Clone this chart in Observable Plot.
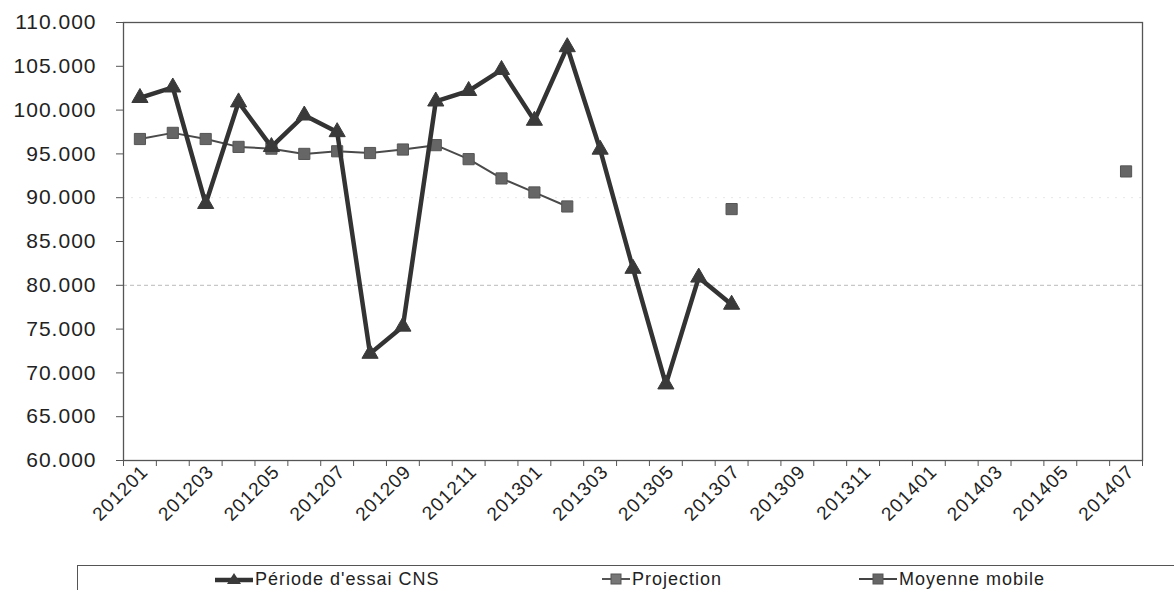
<!DOCTYPE html>
<html><head><meta charset="utf-8">
<script src="https://cdn.jsdelivr.net/npm/d3@7"></script>
<script src="https://cdn.jsdelivr.net/npm/@observablehq/plot@0.6"></script>
<style>
body{margin:0;background:#fff;font-family:"Liberation Sans",Arial,sans-serif;}
#wrap{position:relative;width:1174px;height:590px;overflow:hidden;background:#fff;}
#chart svg text{letter-spacing:1px;}
#legend{position:absolute;left:77px;top:565px;width:1100px;height:40px;border-top:1.5px solid #555;border-left:1.5px solid #555;}
.item{position:absolute;top:1px;height:24px;display:flex;align-items:center;font-size:18px;letter-spacing:1px;color:#222;white-space:nowrap;}
.item svg{margin-right:2px;}
</style></head><body>
<div id="wrap"><div id="chart"></div><div id="legend"></div></div>
<script>
const categories = ["201201","201202","201203","201204","201205","201206","201207","201208","201209","201210","201211","201212",
  "201301","201302","201303","201304","201305","201306","201307","201308","201309","201310","201311","201312",
  "201401","201402","201403","201404","201405","201406","201407"];
const cns = [101.4,102.6,89.3,100.9,95.8,99.4,97.5,72.2,75.3,101.0,102.2,104.6,98.8,107.2,95.5,81.9,68.7,80.9,77.8,
  null,null,null,null,null,null,null,null,null,null,null,null];
const moyenne = [96.7,97.4,96.7,95.8,95.6,95.0,95.3,95.1,95.5,96.0,94.4,92.2,90.6,89.0,
  null,null,null,null,null,null,null,null,null,null,null,null,null,null,null,null,null];
const projection = [null,null,null,null,null,null,null,null,null,null,null,null,null,null,null,null,null,null,88.7,
  null,null,null,null,null,null,null,null,null,null,null,93.0];
const yTicks = [60,65,70,75,80,85,90,95,100,105,110];
const seriesNames = ["Période d'essai CNS","Projection","Moyenne mobile"];

const rows = (vals) => vals.map((v,i)=>({i, cat:categories[i], v})).filter(d=>d.v!=null);
const rowsC = rows(cns), rowsM = rows(moyenne), rowsP = rows(projection);
const labelIdx = categories.map((d,i)=>i).filter(i=>i%2===0);
const boundaries = d3.range(categories.length+1).map(i=>i-0.5);

const chart = Plot.plot({
  width:1174, height:562, marginLeft:123, marginRight:32, marginTop:22, marginBottom:102,
  x:{type:"linear", domain:[-0.5, categories.length-0.5]},
  y:{domain:[60,110]},
  style:{fontFamily:"'Liberation Sans',Arial,sans-serif", color:"#222", background:"#fff"},
  marks:[
    Plot.ruleY([80],{stroke:"#bbb",strokeDasharray:"4,3"}),
    Plot.ruleY([90],{stroke:"#e6e6e6",strokeDasharray:"2,6"}),
    Plot.frame({stroke:"#555", strokeWidth:1.3}),
    Plot.axisY({ticks:yTicks, tickFormat:d3.format(".3f"), tickSize:7, tickPadding:20, fontSize:21, label:null, stroke:"#555"}),
    Plot.axisX({ticks:boundaries, tickSize:6, tickFormat:()=>"", label:null, stroke:"#555"}),
    Plot.axisX({ticks:labelIdx, tickSize:0, tickPadding:8, dx:5, tickFormat:i=>categories[i], tickRotate:-45, fontSize:19, label:null}),
    Plot.line(rowsM, {x:"i", y:"v", stroke:"#4a4a4a", strokeWidth:2}),
    Plot.dot(rowsM, {x:"i", y:"v", symbol:"square", r:6.3, fill:"#666", stroke:"#555", strokeWidth:1}),
    Plot.line(rowsC, {x:"i", y:"v", stroke:"#333", strokeWidth:4.5, strokeLinejoin:"miter"}),
    Plot.dot(rowsC, {x:"i", y:"v", symbol:"triangle", r:6, fill:"#3a3a3a", stroke:"#3a3a3a", strokeWidth:1}),
    Plot.dot(rowsP, {x:"i", y:"v", symbol:"square", r:6.3, fill:"#666", stroke:"#555", strokeWidth:1})
  ]
});
document.getElementById("chart").appendChild(chart);

const legend = document.getElementById("legend");
const items = [
  {name:seriesNames[0], left:137, mk:`<svg width="38" height="16"><line x1="0" y1="9" x2="38" y2="9" stroke="#333" stroke-width="4.5"/><path d="M19,2 L26,13 L12,13 Z" fill="#3a3a3a"/></svg>`},
  {name:seriesNames[1], left:524, mk:`<svg width="28" height="16"><line x1="0" y1="8" x2="28" y2="8" stroke="#555" stroke-width="2"/><rect x="9" y="3" width="10" height="10" fill="#777" stroke="#555"/></svg>`},
  {name:seriesNames[2], left:781, mk:`<svg width="38" height="16"><line x1="0" y1="8" x2="38" y2="8" stroke="#444" stroke-width="2"/><rect x="14" y="3" width="10" height="10" fill="#666" stroke="#555"/></svg>`}
];
for (const it of items) {
  const d = document.createElement("div");
  d.className = "item";
  d.style.left = it.left + "px";
  d.innerHTML = it.mk + "<span>" + it.name + "</span>";
  legend.appendChild(d);
}
</script>
</body></html>
